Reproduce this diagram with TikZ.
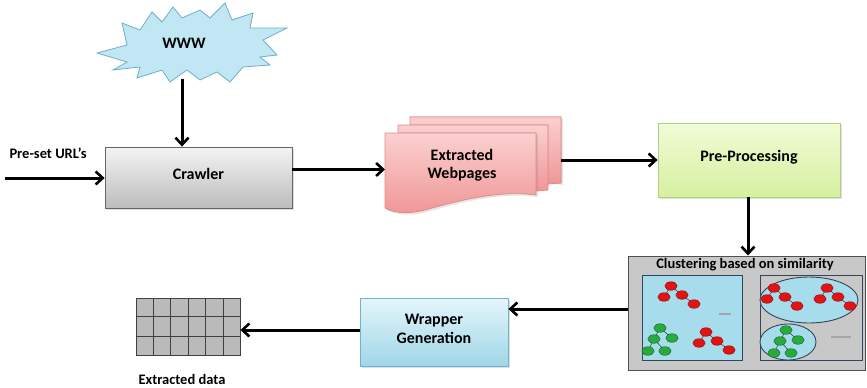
\documentclass[tikz,border=0pt]{standalone}
\usepackage{fontspec}
\setmainfont{Carlito}
\usetikzlibrary{arrows.meta,shadows,calc}

\definecolor{wwwfill}{RGB}{192,231,243}
\definecolor{wwwline}{RGB}{110,175,200}
\definecolor{crawtop}{RGB}{244,244,244}
\definecolor{crawbot}{RGB}{188,188,188}
\definecolor{crawline}{RGB}{100,100,100}
\definecolor{pinktop}{RGB}{251,208,208}
\definecolor{pinkbot}{RGB}{240,150,150}
\definecolor{pinkline}{RGB}{222,140,140}
\definecolor{greentop}{RGB}{242,251,214}
\definecolor{greenbot}{RGB}{214,240,160}
\definecolor{greenline}{RGB}{182,206,130}
\definecolor{bluetop}{RGB}{228,246,251}
\definecolor{bluebot}{RGB}{160,214,232}
\definecolor{blueline}{RGB}{110,180,205}
\definecolor{clgray}{RGB}{200,200,200}
\definecolor{clline}{RGB}{80,80,80}
\definecolor{panel}{RGB}{166,220,235}
\definecolor{panelline}{RGB}{50,70,90}
\definecolor{leafred}{RGB}{225,20,20}
\definecolor{leafredline}{RGB}{150,10,10}
\definecolor{leafgreen}{RGB}{40,170,60}
\definecolor{leafgreenline}{RGB}{20,100,35}

\tikzset{
  flow/.style={line width=3pt, -{Straight Barb[length=7pt,width=13pt,line width=2.6pt]}},
  procbox/.style={draw, line width=0.8pt, font=\bfseries\fontsize{16}{19}\selectfont,
    align=center, drop shadow={shadow xshift=2pt, shadow yshift=-2pt, opacity=0.25}},
  sheet/.style={draw=pinkline, line width=0.8pt, top color=pinktop, bottom color=pinkbot},
  caption/.style={font=\bfseries\fontsize{14.5}{17}\selectfont},
  twig/.style={draw=panelline, line width=0.6pt},
}

% small binary-ish trees inside the clustering panel
\newcommand\redtreeat[2]{%
  \begin{scope}[shift={(#1,#2)}]
    \draw[twig] (0,0) -- (-7,11) (0,0) -- (11,9) -- (23,18);
    \foreach \p in {(0,0),(-7,11),(11,9),(23,18)}
      \filldraw[fill=leafred, draw=leafredline, line width=0.4pt] \p ellipse (6.2pt and 4.3pt);
  \end{scope}}
\newcommand\greentreeat[2]{%
  \begin{scope}[shift={(#1,#2)}]
    \draw[twig] (0,0) -- (-6,11) -- (-12,23) (-6,11) -- (5,23) (0,0) -- (12,10);
    \foreach \p in {(0,0),(-6,11),(12,10),(-12,23),(5,23)}
      \filldraw[fill=leafgreen, draw=leafgreenline, line width=0.4pt] \p ellipse (6.2pt and 4.3pt);
  \end{scope}}

\begin{document}
\begin{tikzpicture}[x=1pt, y=-1pt]
\useasboundingbox (0,0) rectangle (867,388);

% ---------- WWW starburst ----------
\filldraw[fill=wwwfill, draw=wwwline, line width=0.8pt]
  (97,53) -- (127,45) -- (122,23) -- (140,30) -- (152,12) -- (162,22) -- (173,7)
  -- (182,18) -- (200,10) -- (210,18) -- (225,3) -- (232,20) -- (253,13) -- (250,28)
  -- (287,28) -- (263,40) -- (277,55) -- (260,57) -- (270,65) -- (243,67) -- (230,82)
  -- (217,72) -- (200,80) -- (187,70) -- (170,82) -- (162,70) -- (137,78) -- (140,67)
  -- (113,70) -- (127,62) -- cycle;
\node[font=\bfseries\fontsize{16}{19}\selectfont] (www) at (184,43) {WWW};
\coordinate (wwwbot) at (182,79);

% ---------- Crawler ----------
\node[procbox, draw=crawline, top color=crawtop, bottom color=crawbot,
      minimum width=187pt, minimum height=61pt] (crawler) at (198.5,177.5)
      {\raisebox{7pt}{Crawler}};

\node[caption, anchor=west] (preset) at (6,153) {Pre-set URL's};
\coordinate (urlin) at (5,178);

% ---------- Extracted webpages (stacked documents) ----------
\path[sheet, drop shadow={shadow xshift=2pt, shadow yshift=-2pt, opacity=0.2}]
  (410,117) -- (561,117) -- (561,183) .. controls (540,180) and (520,183) .. (500,186) -- cycle;
\path[sheet] (410,117) -- (561,117) -- (561,183) -- (548,184) -- (548,125) -- (410,125) -- cycle;
\path[sheet] (398,125) -- (548,125) -- (548,190) -- (536,191) -- (536,133) -- (398,133) -- cycle;
\path[sheet, drop shadow={shadow xshift=2pt, shadow yshift=-2pt, opacity=0.2}]
  (385,133) -- (536,133) -- (536,195)
  .. controls (500,190) and (460,200) .. (425,210)
  .. controls (405,215) and (392,212) .. (385,208) -- cycle;
\node[font=\bfseries\fontsize{16}{19}\selectfont, align=center] (ext) at (462,165)
  {Extracted\\[-1pt]Webpages};
\coordinate (extin) at (385,170);
\coordinate (extout) at (561,160);

% ---------- Pre-Processing ----------
\node[procbox, draw=greenline, top color=greentop, bottom color=greenbot,
      minimum width=182pt, minimum height=74pt] (pre) at (749,160)
      {\raisebox{8pt}{Pre-Processing}};

% ---------- Clustering ----------
\node[draw=clline, line width=1pt, fill=clgray, minimum width=237pt, minimum height=114pt]
  (clust) at (746.5,313) {};
\node[font=\bfseries\fontsize{14.5}{17}\selectfont] (cltitle) at (745,265)
  {Clustering based on similarity};
\node[draw=panelline, line width=1pt, fill=panel, minimum width=100pt, minimum height=85pt]
  (leftpanel) at (692,317.5) {};
\node[draw=panelline, line width=1pt, fill=clgray, minimum width=102pt, minimum height=85pt]
  (rightpanel) at (811,317.5) {};
\filldraw[fill=panel, draw=panelline, line width=0.9pt] (809,300) ellipse (49pt and 23pt);
\filldraw[fill=panel, draw=panelline, line width=0.9pt] (788,342) ellipse (28pt and 18pt);

\redtreeat{671}{286}
\greentreeat{660}{328}
\redtreeat{706}{332}
\redtreeat{774}{288}
\redtreeat{827}{288}
\greentreeat{786}{330}

\draw[gray!70, line width=1.6pt] (719,314) -- (731,314);
\draw[gray!70, line width=1.6pt] (831,337) -- (851,337);

% ---------- Wrapper generation ----------
\node[procbox, draw=blueline, top color=bluetop, bottom color=bluebot,
      minimum width=148pt, minimum height=68pt] (wrap) at (434,332)
      {\raisebox{6pt}{\shortstack{Wrapper\\[2pt]Generation}}};

% ---------- Extracted data table ----------
\node[draw=black!75, line width=0.9pt, fill=black!27, minimum width=104pt, minimum height=57pt]
  (tbl) at (188,326.5) {};
\foreach \i in {1,...,5}
  \draw[black!75, line width=0.9pt] ($(tbl.north west)!\i/6!(tbl.north east)$)
    -- ($(tbl.south west)!\i/6!(tbl.south east)$);
\foreach \j in {1,2}
  \draw[black!75, line width=0.9pt] ($(tbl.north west)!\j/3!(tbl.south west)$)
    -- ($(tbl.north east)!\j/3!(tbl.south east)$);
\node[caption] (tblcap) at (182,379) {Extracted data};

% ---------- Connectors ----------
\draw[flow] (urlin) -- (urlin -| crawler.west);
\draw[flow] (wwwbot) -- (wwwbot |- crawler.north);
\draw[flow] ([yshift=8pt]crawler.east) -- ([yshift=8pt]crawler.east -| extin);
\draw[flow] (extout) -- (extout -| pre.west);
\draw[flow] (pre.south -| 748,0) -- (748,0 |- clust.north);
\draw[flow] ([yshift=4pt]clust.west) -- ([yshift=4pt]clust.west -| wrap.east);
\draw[flow] ([yshift=2pt]wrap.west) -- ([yshift=2pt]wrap.west -| tbl.east);

\end{tikzpicture}
\end{document}
